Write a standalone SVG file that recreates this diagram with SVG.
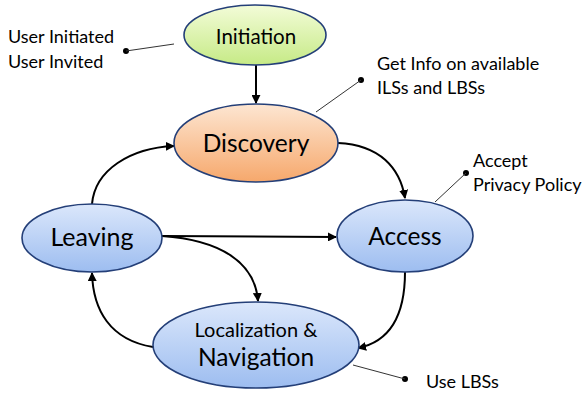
<svg xmlns="http://www.w3.org/2000/svg" width="584" height="396" viewBox="0 0 584 396">
<style>
.node{stroke:#243f78;stroke-width:1.6}
.lbl{font-family:Lato,"Open Sans","Liberation Sans",sans-serif;fill:#000;text-anchor:middle}
.ann{font-family:Lato,"Open Sans","Liberation Sans",sans-serif;font-size:18px;fill:#000}
.edge{fill:none;stroke:#000;stroke-width:2;marker-end:url(#ah)}
.lead{stroke:#333;stroke-width:1;fill:none}
</style>
<defs>
<marker id="ah" viewBox="0 0 10 10" refX="9" refY="5" markerWidth="4.5" markerHeight="4.5" orient="auto" markerUnits="strokeWidth">
<path d="M0,0 L10,5 L0,10 z" fill="#000"/>
</marker>
<linearGradient id="gGreen" x1="0" y1="0" x2="0" y2="1"><stop offset="0" stop-color="#f3fcd8"/><stop offset="1" stop-color="#c6ea86"/></linearGradient>
<linearGradient id="gOrange" x1="0" y1="0" x2="0" y2="1"><stop offset="0" stop-color="#fde6d2"/><stop offset="1" stop-color="#f6a86c"/></linearGradient>
<linearGradient id="gBlue" x1="0" y1="0" x2="0" y2="1"><stop offset="0" stop-color="#dbe7fb"/><stop offset="1" stop-color="#9dbdf0"/></linearGradient>
</defs>
<g id="connectors">
<path class="edge" d="M256,65 L256,103"/>
<path class="edge" d="M338,143 C380,145 400,168 405,198"/>
<path class="edge" d="M92,204 C95,170 130,148 174,146"/>
<path class="edge" d="M162,236 L336,237"/>
<path class="edge" d="M162,236 C220,240 255,262 258,301"/>
<path class="edge" d="M405,272 C405,318 388,342 358,348"/>
<path class="edge" d="M153,347 C110,340 93,310 92,273"/>
</g>
<g id="initiation"><ellipse class="node" cx="255" cy="35" rx="71" ry="30" fill="url(#gGreen)"/><text class="lbl" x="256" y="44" font-size="20.5">Initiation</text></g>
<g id="discovery"><ellipse class="node" cx="256" cy="143" rx="82" ry="39" fill="url(#gOrange)"/><text class="lbl" x="256" y="152" font-size="24.5">Discovery</text></g>
<g id="access"><ellipse class="node" cx="405" cy="236" rx="68" ry="36" fill="url(#gBlue)"/><text class="lbl" x="405" y="245" font-size="24.5">Access</text></g>
<g id="leaving"><ellipse class="node" cx="92" cy="238" rx="70" ry="34" fill="url(#gBlue)"/><text class="lbl" x="92" y="246" font-size="25">Leaving</text></g>
<g id="localization"><ellipse class="node" cx="256" cy="345" rx="103" ry="43" fill="url(#gBlue)"/><text class="lbl" x="256" y="337" font-size="20">Localization &amp;</text><text class="lbl" x="256" y="366" font-size="24.5">Navigation</text></g>
<g id="notes">
<text class="ann" x="8" y="43">User Initiated</text><text class="ann" x="8" y="68">User Invited</text>
<circle cx="126" cy="51" r="3"/><path class="lead" d="M126,51 L174,44"/>
<text class="ann" x="377" y="70">Get Info on available</text><text class="ann" x="377" y="94">ILSs and LBSs</text>
<circle cx="361" cy="80" r="3"/><path class="lead" d="M361,80 L316,112"/>
<text class="ann" x="473" y="167">Accept</text><text class="ann" x="473" y="191">Privacy Policy</text>
<circle cx="466" cy="173" r="3"/><path class="lead" d="M466,173 L435,202"/>
<text class="ann" x="426" y="388">Use LBSs</text>
<circle cx="405" cy="379" r="3"/><path class="lead" d="M405,379 L353,365"/>
</g>
</svg>
